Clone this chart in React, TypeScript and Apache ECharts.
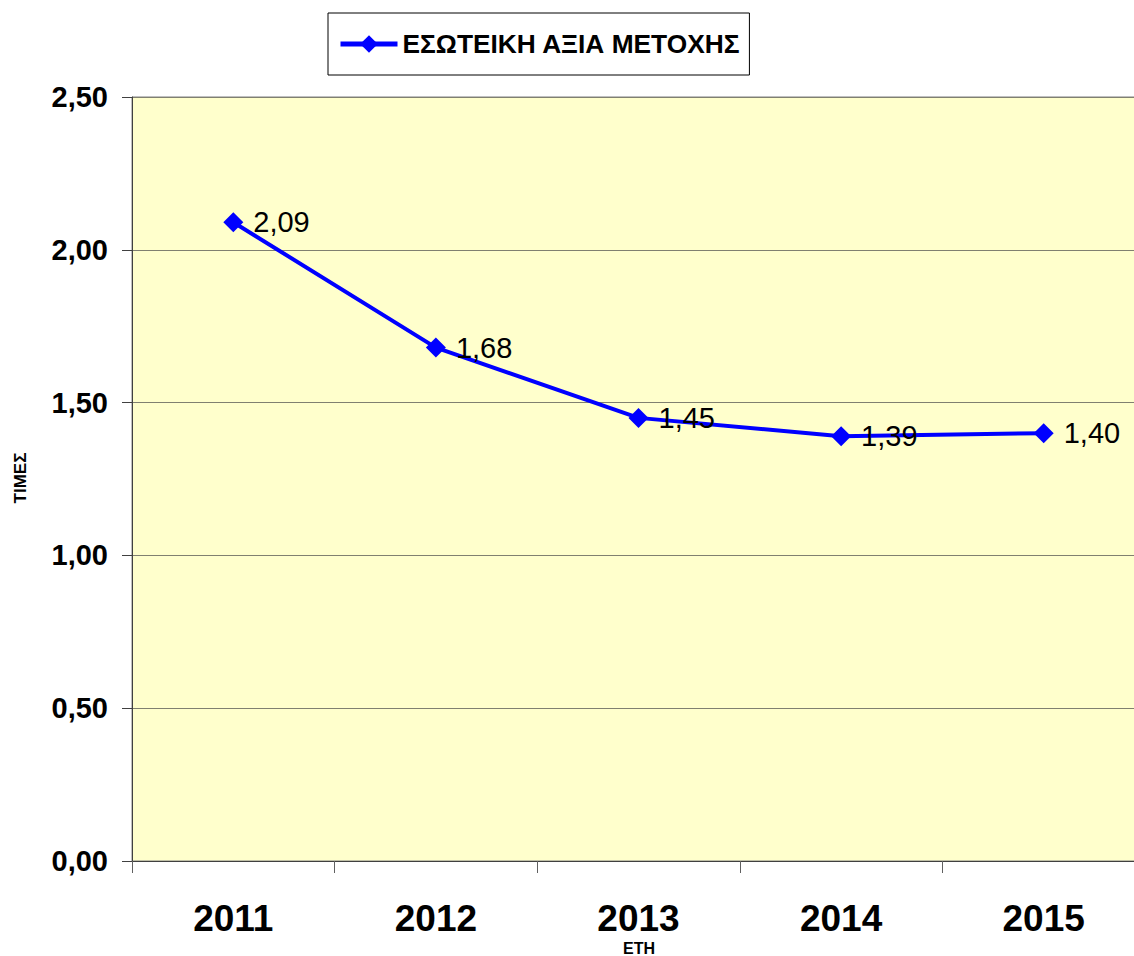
import React, { useEffect, useRef } from "react";
import * as echarts from "echarts";

const years = ["2011", "2012", "2013", "2014", "2015"];
const values = [2.09, 1.68, 1.45, 1.39, 1.4];
const seriesName = "ΕΣΩΤΕΙΚΗ ΑΞΙΑ ΜΕΤΟΧΗΣ";
const yAxisTitle = "ΤΙΜΕΣ";
const xAxisTitle = "ΕΤΗ";

const FONT = "'Liberation Sans', Arial, sans-serif";
const fmt = (v: number) => v.toFixed(2).replace(".", ",");

export default function App() {
  const ref = useRef<HTMLDivElement>(null);
  useEffect(() => {
    if (!ref.current) return;
    const chart = echarts.init(ref.current, null, { renderer: "svg" });
    chart.setOption({
      animation: false,
      backgroundColor: "#ffffff",
      textStyle: { fontFamily: FONT },
      legend: {
        left: 328,
        top: 13,
        padding: [18, 9, 18, 10],
        borderColor: "#000000",
        borderWidth: 1,
        itemWidth: 57,
        itemHeight: 22,
        itemGap: 5,
        lineStyle: { width: 5, color: "#0000FF" },
        itemStyle: { color: "#0000FF" },
        textStyle: { fontFamily: FONT, fontWeight: "bold", fontSize: 26.3, color: "#000" },
        data: [seriesName],
      },
      grid: {
        left: 132,
        top: 97,
        bottom: 95,
        right: -11,
        outerBoundsMode: "none",
        containLabel: false,
        show: true,
        backgroundColor: "#FFFFCC",
        borderColor: "#808080",
        borderWidth: 1,
      },
      graphic: [
        {
          type: "text",
          x: 20,
          y: 478,
          rotation: Math.PI / 2,
          style: {
            text: yAxisTitle,
            fontFamily: FONT,
            fontWeight: "bold",
            fontSize: 17,
            fill: "#000",
            textAlign: "center",
            textVerticalAlign: "middle",
          },
        },
        {
          type: "text",
          x: 639,
          y: 948,
          style: {
            text: xAxisTitle,
            fontFamily: FONT,
            fontWeight: "bold",
            fontSize: 16,
            fill: "#000",
            textAlign: "center",
            textVerticalAlign: "middle",
          },
        },
      ],
      xAxis: {
        type: "category",
        data: years,
        boundaryGap: true,
        axisLine: { lineStyle: { color: "#404040", width: 1 } },
        axisTick: { show: true, length: 12, lineStyle: { color: "#606060" } },
        axisLabel: { fontFamily: FONT, fontWeight: "bold", fontSize: 37, color: "#000", margin: 39 },
        splitLine: { show: false },
      },
      yAxis: {
        type: "value",
        min: 0,
        max: 2.5,
        interval: 0.5,
        axisLine: { show: true, lineStyle: { color: "#404040", width: 1 } },
        axisTick: { show: true, length: 10, lineStyle: { color: "#404040" } },
        axisLabel: {
          fontFamily: FONT,
          fontWeight: "bold",
          fontSize: 29,
          color: "#000",
          margin: 24,
          formatter: (v: number) => fmt(v),
        },
        splitLine: { show: true, lineStyle: { color: "#808070", width: 1 } },
      },
      series: [
        {
          name: seriesName,
          type: "line",
          data: values,
          symbol: "diamond",
          symbolSize: 20,
          itemStyle: { color: "#0000FF" },
          lineStyle: { color: "#0000FF", width: 4 },
          label: {
            show: true,
            position: "right",
            distance: 10,
            fontFamily: FONT,
            fontSize: 29,
            color: "#000",
            formatter: (p: any) => fmt(p.value),
          },
        },
      ],
    });
    return () => chart.dispose();
  }, []);
  return (
    <div
      ref={ref}
      style={{ position: "fixed", left: 0, top: 0, width: 1134, height: 956 }}
    />
  );
}
